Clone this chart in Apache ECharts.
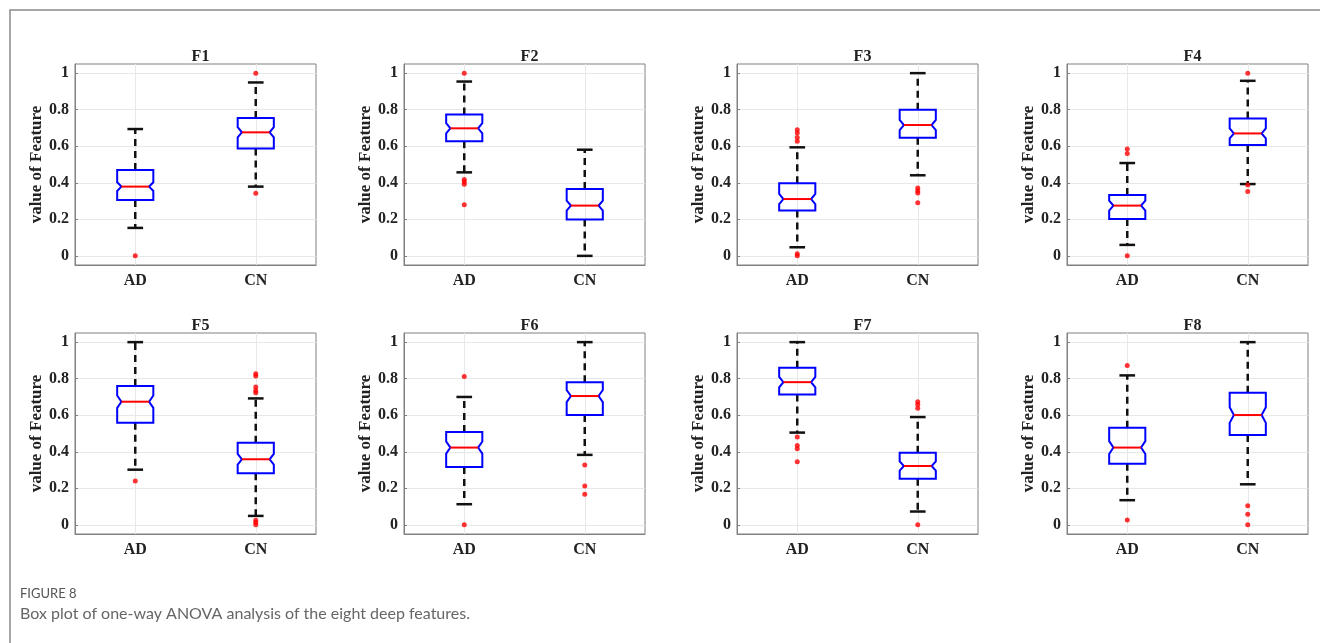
<!DOCTYPE html>
<html>
<head>
<meta charset="utf-8">
<title>Box plot of one-way ANOVA analysis</title>
<script src="https://cdn.jsdelivr.net/npm/echarts@6/dist/echarts.min.js"></script>
<style>
  html, body { margin: 0; padding: 0; background: #fff; }
  #main { width: 1320px; height: 643px; }
</style>
</head>
<body>
<div id="main"></div>
<script>
// 8 个特征，每个特征两组 [AD, CN]
var features = ['F1', 'F2', 'F3', 'F4', 'F5', 'F6', 'F7', 'F8'];
var groups = ['AD', 'CN'];
var yTicks = [0, 0.2, 0.4, 0.6, 0.8, 1];

// 箱线图统计量
var whiskerLow  = [[0.153, 0.379], [0.457, 0.000], [0.047, 0.441], [0.060, 0.393],
                   [0.302, 0.049], [0.113, 0.383], [0.505, 0.073], [0.135, 0.222]];
var quart1      = [[0.306, 0.588], [0.627, 0.199], [0.248, 0.647], [0.202, 0.607],
                   [0.559, 0.282], [0.317, 0.601], [0.714, 0.253], [0.335, 0.492]];
var notchLow    = [[0.355, 0.648], [0.670, 0.248], [0.283, 0.688], [0.248, 0.643],
                   [0.640, 0.330], [0.390, 0.672], [0.752, 0.297], [0.388, 0.558]];
var medians     = [[0.379, 0.676], [0.698, 0.275], [0.311, 0.716], [0.275, 0.670],
                   [0.674, 0.359], [0.423, 0.705], [0.781, 0.322], [0.423, 0.601]];
var notchHigh   = [[0.403, 0.704], [0.726, 0.302], [0.339, 0.744], [0.302, 0.697],
                   [0.708, 0.388], [0.456, 0.738], [0.810, 0.347], [0.458, 0.644]];
var quart3      = [[0.470, 0.754], [0.774, 0.366], [0.397, 0.800], [0.333, 0.752],
                   [0.760, 0.450], [0.508, 0.781], [0.860, 0.395], [0.532, 0.723]];
var whiskerHigh = [[0.694, 0.949], [0.954, 0.581], [0.594, 1.000], [0.508, 0.958],
                   [1.000, 0.692], [0.700, 1.000], [1.000, 0.590], [0.818, 1.000]];

// 离群点
var outliersAD = [
  [0.0],
  [1.0, 0.418, 0.405, 0.392, 0.28],
  [0.69, 0.672, 0.648, 0.627, 0.012, 0.0],
  [0.585, 0.56, 0.0],
  [0.24],
  [0.812, 0.0],
  [0.481, 0.435, 0.417, 0.346],
  [0.872, 0.026]
];
var outliersCN = [
  [1.0, 0.342],
  [],
  [0.372, 0.357, 0.344, 0.29],
  [1.0, 0.388, 0.352],
  [0.827, 0.814, 0.754, 0.736, 0.723, 0.025, 0.013, 0.0],
  [0.328, 0.213, 0.168],
  [0.674, 0.659, 0.638, 0.0],
  [0.104, 0.058, 0.0]
];

var serif = '"Liberation Serif", "Times New Roman", serif';
var gridLefts = [75, 404, 737, 1067];
var gridTops = [64, 333];
var gridW = 241, gridH = 201;

var myChart = echarts.init(document.getElementById('main'));

// 带缺口的箱子
function renderBox(params, api) {
  var x = api.value(0);
  var pLow = api.coord([x, api.value(1)]);
  var pQ1 = api.coord([x, api.value(2)]);
  var pNL = api.coord([x, api.value(3)]);
  var pMed = api.coord([x, api.value(4)]);
  var pNH = api.coord([x, api.value(5)]);
  var pQ3 = api.coord([x, api.value(6)]);
  var pHigh = api.coord([x, api.value(7)]);
  var band = api.size([1, 0])[0];
  var half = band * 0.15;
  var ind = band * 0.035;
  var cap = band * 0.065;
  var cx = pMed[0];
  var L = cx - half, R = cx + half;
  var dash = { stroke: '#111', lineWidth: 2.5, lineDash: [7, 5] };
  var solid = { stroke: '#111', lineWidth: 2.5 };
  return {
    type: 'group',
    children: [
      { type: 'line', shape: { x1: cx, y1: pQ3[1], x2: cx, y2: pHigh[1] }, style: dash },
      { type: 'line', shape: { x1: cx, y1: pQ1[1], x2: cx, y2: pLow[1] }, style: dash },
      { type: 'line', shape: { x1: cx - cap, y1: pHigh[1], x2: cx + cap, y2: pHigh[1] }, style: solid },
      { type: 'line', shape: { x1: cx - cap, y1: pLow[1], x2: cx + cap, y2: pLow[1] }, style: solid },
      {
        type: 'polygon',
        shape: {
          points: [
            [L, pQ3[1]], [R, pQ3[1]], [R, pNH[1]], [R - ind, pMed[1]], [R, pNL[1]],
            [R, pQ1[1]], [L, pQ1[1]], [L, pNL[1]], [L + ind, pMed[1]], [L, pNH[1]]
          ]
        },
        style: { fill: 'none', stroke: '#0000ff', lineWidth: 2 }
      },
      { type: 'line', shape: { x1: L + ind, y1: pMed[1], x2: R - ind, y2: pMed[1] },
        style: { stroke: '#ff0000', lineWidth: 2 } }
    ]
  };
}

var grids = [], xAxes = [], yAxes = [], titles = [], series = [];

features.forEach(function (name, k) {
  var col = k % 4, row = Math.floor(k / 4);
  grids.push({
    left: gridLefts[col], top: gridTops[row], width: gridW, height: gridH,
    show: true, borderColor: '#808080', borderWidth: 1, backgroundColor: '#fff'
  });
  titles.push({
    text: name,
    left: gridLefts[col] + gridW / 2,
    top: gridTops[row] - 20,
    textAlign: 'center',
    textStyle: { fontFamily: serif, fontWeight: 'bold', fontSize: 16, color: '#222' }
  });
  xAxes.push({
    type: 'category', gridIndex: k, data: groups,
    axisLine: { onZero: false, lineStyle: { color: '#808080' } },
    axisTick: { inside: true, length: 3, alignWithLabel: true, lineStyle: { color: '#808080' } },
    axisLabel: { fontFamily: serif, fontWeight: 'bold', fontSize: 16, color: '#222', margin: 8 },
    splitLine: { show: true, alignWithLabel: true, lineStyle: { color: '#e8e8e8' } }
  });
  yAxes.push({
    type: 'value', gridIndex: k, min: -0.05, max: 1.05,
    name: 'value of Feature', nameLocation: 'middle', nameGap: 30,
    nameTextStyle: { fontFamily: serif, fontWeight: 'bold', fontSize: 17, color: '#222' },
    axisLine: { show: true, lineStyle: { color: '#808080' } },
    axisTick: { show: true, inside: true, length: 3, customValues: yTicks, lineStyle: { color: '#808080' } },
    axisLabel: { customValues: yTicks, fontFamily: serif, fontWeight: 'bold', fontSize: 16, color: '#222', margin: 6 },
    splitLine: { show: true, lineStyle: { color: '#e8e8e8' } }
  });

  var boxData = groups.map(function (g, i) {
    return [i, whiskerLow[k][i], quart1[k][i], notchLow[k][i], medians[k][i],
            notchHigh[k][i], quart3[k][i], whiskerHigh[k][i]];
  });
  series.push({
    type: 'custom', xAxisIndex: k, yAxisIndex: k,
    renderItem: renderBox,
    encode: { x: 0, y: [1, 2, 3, 4, 5, 6, 7] },
    data: boxData, z: 3
  });

  var pts = [];
  outliersAD[k].forEach(function (v) { pts.push(['AD', v]); });
  outliersCN[k].forEach(function (v) { pts.push(['CN', v]); });
  series.push({
    type: 'scatter', xAxisIndex: k, yAxisIndex: k,
    symbol: 'circle', symbolSize: 5,
    itemStyle: { color: '#ff0000' },
    data: pts, z: 4
  });
});

var option = {
  animation: false,
  backgroundColor: '#fff',
  title: titles,
  grid: grids,
  xAxis: xAxes,
  yAxis: yAxes,
  series: series,
  graphic: [
    { type: 'rect', shape: { x: 10, y: 10, width: 1330, height: 700 },
      style: { fill: 'none', stroke: '#8a8a8a', lineWidth: 1.5 }, z: 0 },
    { type: 'text', left: 20, top: 587,
      style: { text: 'FIGURE 8', font: '13px Lato, sans-serif', fill: '#555' } },
    { type: 'text', left: 20, top: 606,
      style: { text: 'Box plot of one-way ANOVA analysis of the eight deep features.',
               font: '16px Lato, sans-serif', fill: '#666' } }
  ]
};

myChart.setOption(option);
</script>
</body>
</html>
